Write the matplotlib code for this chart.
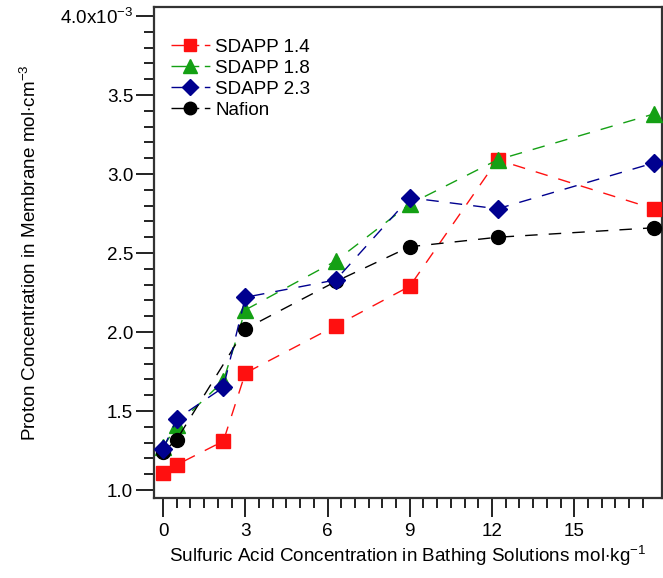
import matplotlib
matplotlib.use("Agg")
import matplotlib.pyplot as plt
from matplotlib.lines import Line2D
from matplotlib.ticker import FixedLocator, FixedFormatter

plt.rcParams['font.family'] = ['Liberation Sans', 'DejaVu Sans']
plt.rcParams['mathtext.fontset'] = 'custom'
plt.rcParams['mathtext.rm'] = 'Liberation Sans'

# acid concentration (mol/kg)
acid = [0.0, 0.5, 2.2, 3.0, 6.3, 9.0, 12.2, 17.9]
acid_nafion = [0.0, 0.5, 3.0, 6.3, 9.0, 12.2, 17.9]

# proton concentration (x1e-3 mol/cm3)
sdapp_14 = [1.11, 1.16, 1.31, 1.74, 2.04, 2.29, 3.09, 2.78]
sdapp_18 = [1.27, 1.41, 1.69, 2.14, 2.45, 2.81, 3.09, 3.38]
sdapp_23 = [1.26, 1.45, 1.65, 2.22, 2.33, 2.85, 2.78, 3.07]
nafion = [1.24, 1.32, 2.02, 2.32, 2.54, 2.60, 2.66]

xtick_vals = [0, 3, 6, 9, 12, 15]
ytick_vals = [1.0, 1.5, 2.0, 2.5, 3.0, 3.5, 4.0]
ytick_labels = ['1.0', '1.5', '2.0', '2.5', '3.0', '3.5', '4.0x10$^{-3}$']

fs = 13.6
fig = plt.figure(figsize=(6.63, 5.78), dpi=100)
ax = fig.add_axes([0.2323, 0.1384, 0.7662, 0.8495])

dash = (0, (9, 8))
series = [
    (acid, sdapp_14, '#ff1010', 's', 10, 'SDAPP 1.4', 3),
    (acid, sdapp_18, '#14a014', '^', 11, 'SDAPP 1.8', 4),
    (acid, sdapp_23, '#00008f', 'D', 9.5, 'SDAPP 2.3', 6),
    (acid_nafion, nafion, 'black', 'o', 10, 'Nafion', 5),
]
handles = []
for xs, ys, c, m, ms, lab, z in series:
    ax.plot(xs, ys, color=c, ls=dash, lw=1, marker=m, ms=ms, zorder=z)
    # legend sample: solid line through the marker, then a short dash
    handles.append(Line2D([], [], color=c, lw=1, ls=(0, (20, 4, 4, 20)),
                          marker=m, ms=ms * 0.9))

ax.set_xlim(-0.33, 18.2)
ax.set_ylim(0.95, 4.057)

ax.xaxis.set_major_locator(FixedLocator(xtick_vals))
ax.xaxis.set_minor_locator(FixedLocator([i * 0.5 for i in range(36) if i % 6]))
ax.yaxis.set_major_locator(FixedLocator(ytick_vals))
ax.yaxis.set_major_formatter(FixedFormatter(ytick_labels))
ax.yaxis.set_minor_locator(FixedLocator([1.0 + i * 0.1 for i in range(31) if i % 5]))

ax.tick_params(which='major', direction='out', length=13, width=1.4, labelsize=fs,
               color='#222222', pad=2)
ax.tick_params(which='minor', direction='out', length=7, width=1.4, color='#222222')
ax.tick_params(axis='x', which='major', length=14, pad=4)
for s in ax.spines.values():
    s.set_linewidth(1.6)
    s.set_color('#333333')

ax.set_xlabel('Sulfuric Acid Concentration in Bathing Solutions mol$\\cdot$kg$^{-1}$',
              fontsize=fs)
ax.set_ylabel('Proton Concentration in Membrane mol$\\cdot$cm$^{-3}$', fontsize=fs)
ax.xaxis.set_label_coords(0.5, -0.093)
ax.yaxis.set_label_coords(-0.225, 0.5)

ax.legend(handles, [s[5] for s in series], loc='upper left',
          bbox_to_anchor=(0.0, 0.97), frameon=False, fontsize=fs,
          handlelength=2.05, handletextpad=0.3, labelspacing=0.2)

fig.savefig('out.png', dpi=100)
